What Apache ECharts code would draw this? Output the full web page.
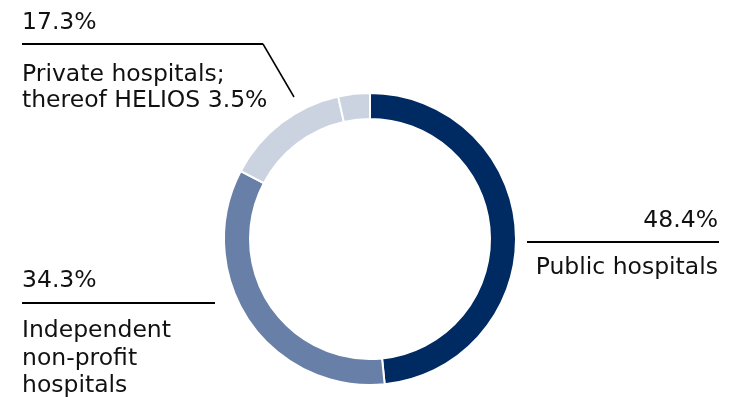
<!DOCTYPE html>
<html>
<head>
<meta charset="utf-8">
<script src="https://cdn.jsdelivr.net/npm/echarts@6/dist/echarts.min.js"></script>
<style>
  html, body { margin: 0; padding: 0; background: #ffffff; }
  #chart { width: 734px; height: 397px; }
</style>
</head>
<body>
<div id="chart"></div>
<script>
// Hospital ownership shares (%), clockwise from 12 o'clock
const categories = ['Public hospitals', 'Independent non-profit hospitals', 'Private hospitals (other)', 'HELIOS'];
const shares = [48.4, 34.3, 13.8, 3.5];
const colors = ['#002a62', '#6880a7', '#cbd3e1', '#cbd3e1'];

const fmt = v => v.toFixed(1) + '%';
const privateTotal = shares[2] + shares[3];

const FONT = 'DejaVu Sans, Verdana, sans-serif';
const FS = 23.5;

function label(text, x, baseline, align) {
  return {
    type: 'text',
    x: x,
    y: baseline + 0.24 * FS,
    style: {
      text: text,
      font: FS + 'px ' + FONT,
      fill: '#111111',
      textAlign: align || 'left',
      textVerticalAlign: 'bottom'
    }
  };
}

function line(points, width) {
  return {
    type: 'polyline',
    shape: { points: points },
    style: { stroke: '#000000', lineWidth: width || 2, fill: null }
  };
}

const chart = echarts.init(document.getElementById('chart'), null, { renderer: 'canvas' });
chart.setOption({
  animation: false,
  series: [{
    type: 'pie',
    center: [370, 239],
    radius: [120, 146],
    startAngle: 90,
    clockwise: true,
    silent: true,
    label: { show: false },
    labelLine: { show: false },
    itemStyle: { borderColor: '#ffffff', borderWidth: 2 },
    data: categories.map((c, i) => ({ name: c, value: shares[i], itemStyle: { color: colors[i] } }))
  }],
  graphic: [
    // private hospitals
    label(fmt(privateTotal), 22, 29),
    line([[22, 44], [263, 44]]),
    line([[263, 44], [294, 97]], 1.5),
    label('Private hospitals;', 22, 81),
    label('thereof HELIOS ' + fmt(shares[3]), 22, 107),
    // public hospitals
    label(fmt(shares[0]), 718, 227, 'right'),
    line([[527, 242], [719, 242]]),
    label('Public hospitals', 718, 274, 'right'),
    // independent non-profit
    label(fmt(shares[1]), 22, 287),
    line([[22, 303], [215, 303]]),
    label('Independent', 22, 337),
    label('non-profit', 22, 365),
    label('hospitals', 22, 392)
  ]
});
</script>
</body>
</html>
